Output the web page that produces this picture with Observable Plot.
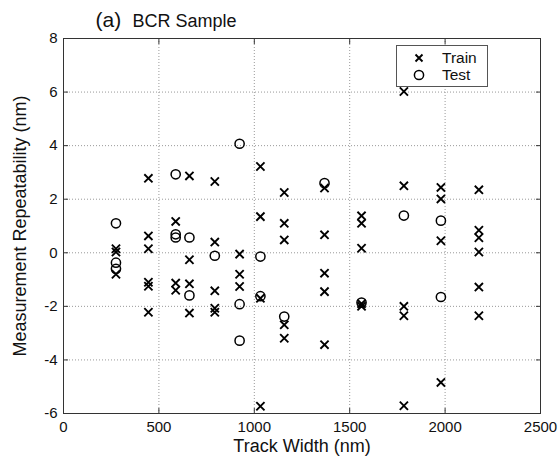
<!DOCTYPE html>
<html>
<head>
<meta charset="utf-8">
<script src="https://cdn.jsdelivr.net/npm/d3@7"></script>
<script src="https://cdn.jsdelivr.net/npm/@observablehq/plot@0.6"></script>
<style>
  html, body { margin: 0; padding: 0; background: white; }
  #wrap { position: relative; width: 559px; height: 462px; font-family: "Liberation Sans", Arial, sans-serif; }
  #legend { position: absolute; left: 396px; top: 45px; width: 90px; height: 40px; border: 1px solid #555; background: white; }
</style>
</head>
<body>
<div id="wrap"></div>
<script>
// Tick labels
const xTicks = [0, 500, 1000, 1500, 2000, 2500];
const yTicks = [-6, -4, -2, 0, 2, 4, 6, 8];

// Train series (track width nm, repeatability nm)
const trainX = [
  275, 275, 275,
  445, 445, 445, 445, 445, 445,
  588, 588, 588,
  660, 660, 660, 660,
  793, 793, 793, 793, 793,
  923, 923, 923,
  1032, 1032, 1032, 1032,
  1157, 1157, 1157, 1157, 1157,
  1368, 1368, 1368, 1368, 1368,
  1562, 1562, 1562, 1562, 1562,
  1784, 1784, 1784, 1784, 1784,
  1978, 1978, 1978, 1978,
  2177, 2177, 2177, 2177, 2177, 2177
];
const trainY = [
  0.15, 0.03, -0.8,
  2.78, 0.63, 0.15, -1.1, -1.25, -2.22,
  1.17, -1.13, -1.4,
  2.87, -0.26, -1.16, -2.25,
  2.66, 0.4, -1.42, -2.07, -2.22,
  -0.05, -0.8, -1.26,
  3.22, 1.35, -1.7, -5.73,
  2.25, 1.1, 0.48, -2.69, -3.19,
  2.42, 0.67, -0.76, -1.45, -3.43,
  1.38, 1.1, 0.17, -1.9, -2.0,
  6.02, 2.5, -2.0, -2.35, -5.71,
  2.44, 2.01, 0.45, -4.84,
  2.35, 0.84, 0.56, 0.03, -1.28, -2.35
];

// Test series
const testX = [275, 275, 275, 588, 588, 588, 660, 660, 793, 923, 923, 923, 1032, 1032, 1157, 1368, 1562, 1784, 1978, 1978];
const testY = [1.1, -0.37, -0.6, 2.93, 0.69, 0.57, 0.57, -1.59, -0.11, 4.07, -1.92, -3.28, -0.14, -1.62, -2.38, 2.6, -1.86, 1.39, 1.2, -1.65];

const train = trainX.map((x, i) => ({x, y: trainY[i]}));
const test = testX.map((x, i) => ({x, y: testY[i]}));

const gridStyle = {stroke: "#999", strokeOpacity: 1, strokeDasharray: "1,2", strokeWidth: 1};
const noText = () => "";
const plain = d => String(d);

const chart = Plot.plot({
  width: 559,
  height: 462,
  marginLeft: 63,
  marginRight: 19,
  marginTop: 38,
  marginBottom: 49,
  style: {fontFamily: "'Liberation Sans', Arial, sans-serif", fontSize: "15px", color: "#111", background: "white", overflow: "visible"},
  x: {domain: [0, 2500]},
  y: {domain: [-6, 8]},
  marks: [
    Plot.gridX(xTicks, gridStyle),
    Plot.gridY(yTicks, gridStyle),
    Plot.axisX(xTicks, {anchor: "bottom", tickSize: 0, tickPadding: 8, label: null, fontSize: 15, tickFormat: plain}),
    Plot.axisX(xTicks, {anchor: "bottom", tickSize: -5, tickFormat: noText, label: null, stroke: "#333"}),
    Plot.axisX(xTicks, {anchor: "top", tickSize: -5, tickFormat: noText, label: null, stroke: "#333"}),
    Plot.axisY(yTicks, {anchor: "left", tickSize: 0, tickPadding: 6, label: null, fontSize: 15, tickFormat: plain}),
    Plot.axisY(yTicks, {anchor: "left", tickSize: -5, tickFormat: noText, label: null, stroke: "#333"}),
    Plot.axisY(yTicks, {anchor: "right", tickSize: -5, tickFormat: noText, label: null, stroke: "#333"}),
    Plot.frame({stroke: "#333"}),
    Plot.dot(train, {x: "x", y: "y", symbol: "times", r: 3.8, stroke: "black", strokeWidth: 1.9}),
    Plot.dot(test, {x: "x", y: "y", symbol: "circle", r: 4.6, stroke: "black", strokeWidth: 1.5, fill: "none"}),
    Plot.text(["Track Width (nm)"], {frameAnchor: "bottom", dy: 33, lineAnchor: "middle", textAnchor: "middle", fontSize: 18, fill: "#111"}),
    Plot.text(["Measurement Repeatability (nm)"], {frameAnchor: "left", dx: -43, rotate: -90, lineAnchor: "middle", textAnchor: "middle", fontSize: 18, fill: "#111"}),
    Plot.text(["(a)"], {frameAnchor: "top-left", dx: 32, dy: -18, lineAnchor: "middle", textAnchor: "start", fontSize: 21, fill: "#111"}),
    Plot.text(["BCR Sample"], {frameAnchor: "top-left", dx: 69, dy: -17, lineAnchor: "middle", textAnchor: "start", fontSize: 18, fill: "#111"})
  ]
});

const wrap = document.getElementById("wrap");
wrap.appendChild(chart);

const legend = document.createElement("div");
legend.id = "legend";
legend.innerHTML = `
<svg width="90" height="40" style="display:block;font-family:'Liberation Sans',Arial,sans-serif">
  <path d="M18.5,8.5L25.5,15.5M18.5,15.5L25.5,8.5" stroke="black" stroke-width="1.9"/>
  <text x="45" y="12" dy="0.35em" font-size="15.5" fill="#111">Train</text>
  <circle cx="22" cy="29" r="4.6" fill="none" stroke="black" stroke-width="1.5"/>
  <text x="45" y="29" dy="0.35em" font-size="15.5" fill="#111">Test</text>
</svg>`;
wrap.appendChild(legend);
</script>
</body>
</html>
